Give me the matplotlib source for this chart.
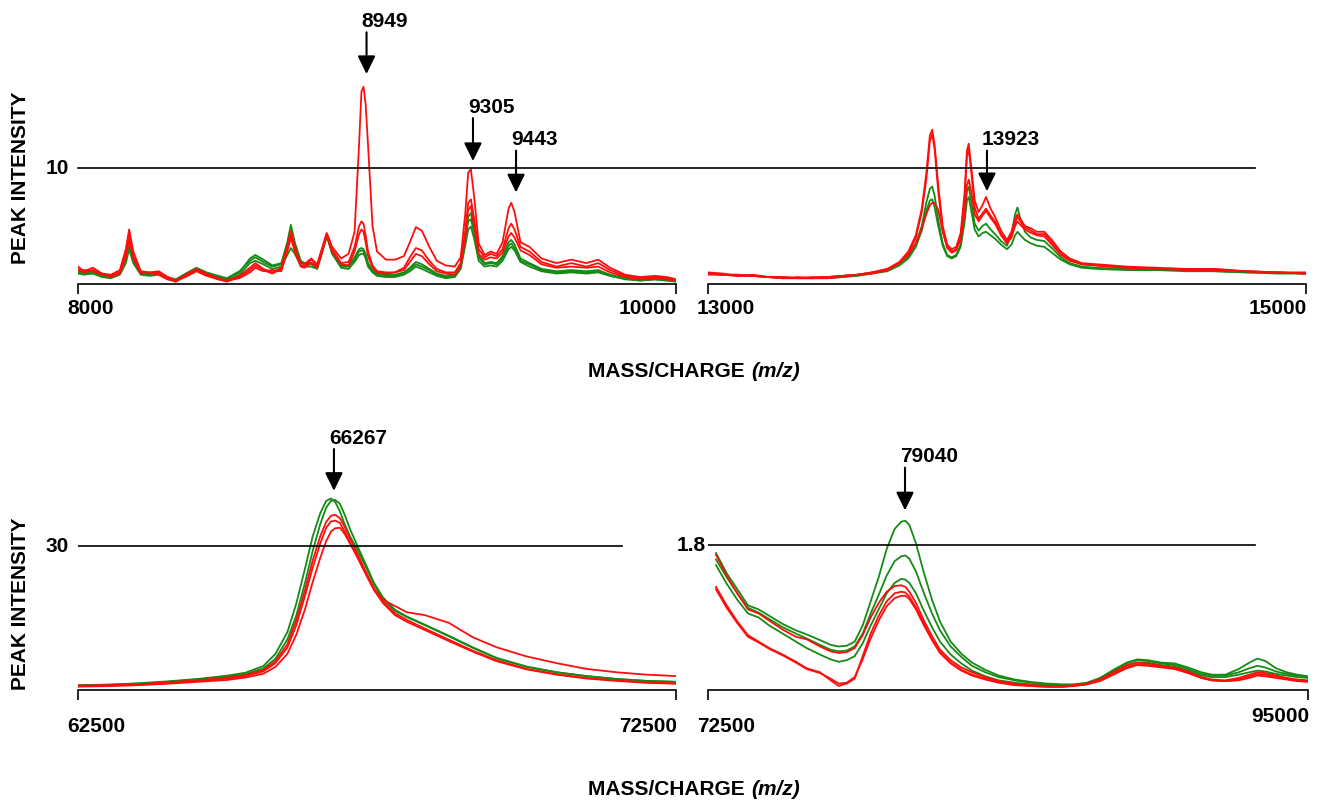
import matplotlib
matplotlib.use('Agg')
import matplotlib.pyplot as plt
from matplotlib.lines import Line2D
from matplotlib.transforms import blended_transform_factory

plt.rcParams['font.family'] = ['Liberation Sans', 'DejaVu Sans']
plt.rcParams['font.weight'] = 'bold'

RED = '#ff0d0d'
GREEN = '#158a15'

# ---------------- Panel A: m/z 8000 - 10000 ----------------
mz_a = [8000, 8020, 8050, 8080, 8110, 8140, 8160, 8171, 8185, 8210,
        8240, 8270, 8300, 8327, 8360, 8396, 8430, 8470, 8498, 8540,
        8575, 8593, 8620, 8650, 8680, 8700, 8712, 8725, 8745, 8757,
        8780, 8800, 8815, 8832, 8850, 8880, 8905, 8925, 8940, 8948,
        8955, 8962, 8970, 8985, 9000, 9030, 9060, 9090, 9110, 9130,
        9150, 9175, 9200, 9230, 9260, 9280, 9295, 9305, 9314, 9325,
        9340, 9360, 9380, 9400, 9420, 9440, 9449, 9460, 9480, 9510,
        9550, 9600, 9650, 9700, 9740, 9780, 9830, 9880, 9930, 9970,
        10000]
a_red1 = [1.5, 1.1, 1.4, 0.9, 0.8, 1.2, 3.0, 4.7, 2.8, 1.1,
          1.0, 1.1, 0.6, 0.3, 0.8, 1.3, 0.9, 0.5, 0.3, 0.7,
          1.4, 1.8, 1.3, 1.0, 1.4, 3.2, 4.4, 3.0, 1.8, 1.7,
          2.2, 1.7, 3.0, 4.4, 3.2, 2.2, 2.6, 4.5, 12.0, 16.6,
          17.0, 15.5, 12.0, 5.0, 2.8, 2.1, 2.1, 2.4, 3.6, 4.9,
          4.6, 3.2, 2.0, 1.6, 1.5, 2.3, 6.0, 9.6, 9.9, 7.5,
          3.5, 2.5, 2.8, 2.6, 3.6, 6.5, 7.0, 6.2, 3.6, 3.2,
          2.2, 1.8, 2.1, 1.8, 2.1, 1.4, 0.8, 0.6, 0.7, 0.6,
          0.4]
a_red2 = [1.2, 1.2, 1.1, 0.8, 0.7, 1.0, 2.6, 4.2, 2.4, 1.0,
          0.9, 1.0, 0.5, 0.2, 0.7, 1.2, 0.8, 0.4, 0.2, 0.6,
          1.2, 1.6, 1.2, 0.9, 1.3, 3.3, 4.6, 3.2, 1.6, 1.5,
          2.1, 1.5, 2.8, 4.3, 3.0, 1.8, 1.9, 3.2, 5.0, 5.4,
          5.2, 4.2, 2.8, 1.6, 1.1, 1.0, 1.0, 1.4, 2.3, 3.1,
          2.9, 2.0, 1.3, 1.0, 1.0, 1.8, 4.5, 7.0, 7.3, 5.6,
          3.0, 2.3, 2.6, 2.4, 3.0, 4.8, 5.2, 4.7, 3.2, 2.8,
          1.9, 1.5, 1.8, 1.5, 1.8, 1.2, 0.7, 0.5, 0.6, 0.5,
          0.3]
a_red3 = [1.3, 1.0, 1.2, 0.9, 0.6, 0.9, 2.3, 3.8, 2.2, 0.9,
          1.0, 0.8, 0.4, 0.3, 0.6, 1.1, 0.7, 0.4, 0.3, 0.5,
          1.0, 1.4, 1.1, 1.2, 1.1, 2.8, 4.0, 2.8, 1.5, 1.4,
          1.8, 1.4, 2.6, 4.2, 2.8, 1.7, 1.6, 2.8, 4.3, 4.7,
          4.5, 3.6, 2.4, 1.4, 1.0, 0.9, 1.0, 1.2, 1.9, 2.6,
          2.4, 1.7, 1.1, 0.9, 0.8, 1.6, 4.0, 6.4, 6.7, 5.0,
          2.6, 2.1, 2.3, 2.2, 2.7, 4.1, 4.4, 4.0, 2.9, 2.5,
          1.7, 1.4, 1.5, 1.4, 1.5, 1.0, 0.6, 0.4, 0.5, 0.4,
          0.3]
a_green1 = [1.0, 0.9, 1.0, 0.7, 0.6, 0.9, 2.0, 3.3, 2.0, 0.9,
            0.8, 0.9, 0.5, 0.3, 0.8, 1.3, 0.9, 0.6, 0.4, 1.0,
            2.2, 2.5, 2.1, 1.6, 1.8, 3.6, 5.1, 3.6, 2.0, 1.8,
            1.8, 1.5, 2.8, 4.3, 2.8, 1.6, 1.6, 2.3, 3.0, 3.1,
            3.0, 2.6, 1.8, 1.2, 0.9, 0.8, 0.8, 1.0, 1.4, 1.9,
            1.7, 1.3, 0.9, 0.7, 0.8, 1.6, 4.0, 5.8, 6.1, 4.8,
            2.5, 1.8, 1.9, 1.8, 2.4, 3.6, 3.8, 3.4, 2.2, 1.8,
            1.3, 1.1, 1.2, 1.1, 1.2, 0.8, 0.5, 0.4, 0.5, 0.4,
            0.3]
a_green2 = [0.9, 0.8, 0.9, 0.6, 0.5, 0.8, 1.8, 3.0, 1.8, 0.8,
            0.7, 0.8, 0.4, 0.2, 0.7, 1.2, 0.8, 0.5, 0.3, 0.8,
            1.8, 2.0, 1.7, 1.3, 1.5, 2.5, 3.1, 2.6, 1.6, 1.5,
            1.5, 1.3, 2.6, 4.1, 2.6, 1.4, 1.3, 1.9, 2.5, 2.6,
            2.6, 2.2, 1.5, 1.0, 0.7, 0.6, 0.6, 0.8, 1.1, 1.5,
            1.3, 1.0, 0.7, 0.5, 0.6, 1.3, 3.3, 4.7, 4.95, 3.9,
            2.0, 1.5, 1.6, 1.5, 2.0, 3.0, 3.2, 2.9, 1.9, 1.5,
            1.1, 0.9, 1.0, 0.9, 1.0, 0.7, 0.4, 0.3, 0.4, 0.3,
            0.2]
a_green3 = [1.1, 1.0, 1.1, 0.8, 0.7, 1.0, 2.2, 3.5, 2.1, 1.0,
            0.9, 1.0, 0.6, 0.4, 0.9, 1.4, 1.0, 0.7, 0.5, 1.1,
            2.0, 2.3, 1.9, 1.5, 1.7, 3.3, 4.4, 3.3, 1.9, 1.7,
            1.7, 1.4, 2.7, 4.2, 2.7, 1.5, 1.5, 2.1, 2.8, 2.9,
            2.8, 2.4, 1.7, 1.1, 0.8, 0.7, 0.7, 0.9, 1.3, 1.7,
            1.5, 1.2, 0.8, 0.6, 0.7, 1.5, 3.8, 5.4, 5.6, 4.4,
            2.3, 1.7, 1.8, 1.7, 2.2, 3.3, 3.5, 3.1, 2.0, 1.7,
            1.2, 1.0, 1.1, 1.0, 1.1, 0.7, 0.5, 0.3, 0.4, 0.3,
            0.3]

# ---------------- Panel B: m/z 13000 - 15000 ----------------
mz_b = [13000, 13050, 13100, 13150, 13200, 13250, 13300, 13350, 13400, 13450,
        13500, 13550, 13600, 13640, 13670, 13695, 13715, 13730, 13742, 13750,
        13758, 13770, 13785, 13800, 13815, 13830, 13845, 13858, 13866, 13872,
        13880, 13892, 13905, 13918, 13930, 13945, 13960, 13980, 14000, 14015,
        14027, 14035, 14045, 14060, 14080, 14100, 14125, 14150, 14180, 14210,
        14250, 14300, 14400, 14500, 14600, 14700, 14800, 14900, 15000]
b_red1 = [1.0, 0.9, 0.7, 0.8, 0.6, 0.5, 0.6, 0.5, 0.6, 0.7,
          0.8, 1.0, 1.3, 1.9, 2.8, 4.2, 6.5, 9.5, 12.8, 13.3,
          12.0, 8.5, 5.0, 3.4, 3.0, 3.2, 4.4, 7.8, 11.5, 12.1,
          10.2, 7.2, 6.2, 6.8, 7.5, 6.5, 5.8, 4.6, 3.8, 4.5,
          5.6, 6.0, 5.6, 5.0, 4.8, 4.5, 4.5, 3.8, 2.8, 2.2,
          1.8, 1.7, 1.5, 1.4, 1.3, 1.3, 1.1, 1.0, 1.0]
b_red2 = [0.9, 0.8, 0.8, 0.7, 0.6, 0.6, 0.5, 0.5, 0.5, 0.6,
          0.8, 0.9, 1.2, 1.8, 2.6, 4.0, 6.2, 9.0, 12.3, 12.9,
          11.6, 8.0, 4.6, 3.1, 2.7, 2.9, 4.0, 7.2, 11.0, 11.6,
          9.8, 6.6, 5.6, 6.1, 6.5, 5.9, 5.4, 4.3, 3.6, 4.2,
          5.3, 5.8, 5.4, 4.9, 4.6, 4.3, 4.3, 3.6, 2.6, 2.1,
          1.7, 1.6, 1.4, 1.3, 1.3, 1.2, 1.1, 1.0, 0.9]
b_red3 = [0.9, 0.8, 0.7, 0.7, 0.6, 0.5, 0.5, 0.6, 0.6, 0.7,
          0.8, 1.0, 1.3, 1.8, 2.5, 3.5, 4.8, 6.0, 6.8, 7.0,
          7.0, 6.4, 4.5, 3.2, 2.8, 3.0, 3.8, 6.0, 8.5, 9.0,
          8.0, 6.0, 5.4, 5.9, 6.3, 5.7, 5.2, 4.2, 3.5, 4.0,
          5.0, 5.4, 5.1, 4.7, 4.4, 4.2, 4.1, 3.4, 2.5, 2.0,
          1.7, 1.6, 1.4, 1.3, 1.2, 1.2, 1.1, 1.0, 0.9]
b_green1 = [0.9, 0.8, 0.8, 0.7, 0.6, 0.6, 0.5, 0.5, 0.6, 0.7,
            0.8, 1.0, 1.2, 1.7, 2.4, 3.5, 5.0, 7.0, 8.2, 8.4,
            7.6, 5.5, 3.5, 2.5, 2.3, 2.5, 3.4, 5.8, 8.0, 8.4,
            7.2, 5.2, 4.6, 5.0, 5.2, 4.7, 4.3, 3.7, 3.3, 4.3,
            6.0, 6.6, 5.6, 4.5, 4.0, 3.8, 3.7, 3.1, 2.3, 1.8,
            1.5, 1.4, 1.3, 1.2, 1.2, 1.1, 1.0, 1.0, 0.9]
b_green2 = [0.8, 0.8, 0.7, 0.7, 0.6, 0.5, 0.5, 0.5, 0.5, 0.6,
            0.7, 0.9, 1.1, 1.6, 2.2, 3.2, 4.6, 6.3, 7.2, 7.3,
            6.6, 5.0, 3.3, 2.4, 2.2, 2.4, 3.2, 5.3, 7.2, 7.5,
            6.4, 4.7, 4.1, 4.4, 4.5, 4.2, 3.9, 3.4, 3.0, 3.4,
            4.2, 4.5, 4.2, 3.8, 3.5, 3.3, 3.2, 2.7, 2.1, 1.7,
            1.4, 1.3, 1.2, 1.2, 1.1, 1.1, 1.0, 0.9, 0.9]

# ---------------- Panel C: m/z 62500 - 72500 ----------------
mz_c = [62500, 63000, 63500, 64000, 64500, 65000, 65300, 65600, 65800, 66000,
        66150, 66300, 66425, 66550, 66650, 66730, 66800, 66880, 66960, 67050,
        67180, 67300, 67450, 67600, 67800, 68000, 68300, 68700, 69100, 69500,
        70000, 70500, 71000, 71500, 72000, 72500]
c_green1 = [1.0, 1.1, 1.4, 1.8, 2.3, 3.0, 3.6, 5.0, 7.5, 12.0,
            18.0, 25.5, 32.0, 36.8, 39.4, 39.9, 39.2, 37.2, 34.5, 32.0,
            29.0, 26.0, 22.0, 19.0, 16.5, 15.2, 13.5, 11.2, 8.8, 6.6,
            4.8, 3.7, 2.9, 2.3, 1.9, 1.7]
c_green2 = [1.0, 1.1, 1.3, 1.7, 2.2, 2.8, 3.3, 4.5, 6.5, 10.5,
            15.5, 22.5, 29.0, 34.5, 38.0, 39.4, 39.6, 38.8, 36.5, 33.5,
            29.8, 26.5, 22.3, 19.3, 16.7, 15.3, 13.6, 11.3, 8.9, 6.7,
            4.9, 3.7, 2.9, 2.3, 1.9, 1.7]
c_red1 = [0.8, 0.9, 1.2, 1.6, 2.0, 2.6, 3.1, 4.2, 6.0, 9.5,
          14.5, 21.0, 27.0, 32.0, 35.0, 36.3, 36.5, 35.8, 34.0, 31.5,
          28.2, 25.0, 21.2, 18.5, 16.0, 14.6, 12.8, 10.5, 8.2, 6.2,
          4.4, 3.3, 2.5, 2.0, 1.6, 1.4]
c_red2 = [0.9, 1.0, 1.1, 1.5, 1.9, 2.4, 2.9, 3.9, 5.6, 8.8,
          13.5, 19.8, 25.5, 30.5, 33.8, 35.1, 35.3, 34.8, 33.0, 30.6,
          27.5, 24.5, 20.8, 18.1, 15.6, 14.2, 12.5, 10.2, 8.0, 6.0,
          4.3, 3.2, 2.4, 1.9, 1.5, 1.3]
c_red3 = [0.7, 0.8, 1.0, 1.3, 1.7, 2.1, 2.6, 3.4, 4.8, 7.5,
          11.5, 17.0, 22.5, 27.5, 31.0, 33.0, 33.7, 33.8, 32.5, 30.5,
          27.5, 24.5, 21.0, 18.8, 17.5, 16.2, 15.6, 14.0, 11.0, 8.9,
          7.0, 5.6, 4.4, 3.7, 3.2, 2.9]

# ---------------- Panel D: m/z 72500 - 95000 ----------------
mz_d = [72800, 73200, 73600, 74000, 74400, 74800, 75300, 75800, 76200, 76700,
        77100, 77400, 77700, 78000, 78300, 78600, 78900, 79200, 79500, 79750,
        79900, 80050, 80300, 80600, 80900, 81200, 81600, 82000, 82400, 82900,
        83400, 84000, 84600, 85200, 85800, 86200, 86700, 87200, 87700, 88200,
        88600, 89000, 89500, 90000, 90500, 91000, 91400, 91900, 92400, 92800,
        93100, 93400, 93800, 94200, 94600, 95000]
d_green1 = [1.70, 1.45, 1.25, 1.05, 1.00, 0.92, 0.82, 0.74, 0.69, 0.62,
            0.56, 0.54, 0.55, 0.60, 0.80, 1.10, 1.40, 1.75, 2.00, 2.09,
            2.10, 2.05, 1.82, 1.45, 1.12, 0.85, 0.60, 0.45, 0.34, 0.25,
            0.18, 0.13, 0.10, 0.08, 0.07, 0.07, 0.09, 0.15, 0.25, 0.34,
            0.38, 0.37, 0.34, 0.33, 0.28, 0.22, 0.19, 0.19, 0.26, 0.34,
            0.39, 0.36, 0.27, 0.22, 0.19, 0.17]
d_green2 = [1.62, 1.40, 1.20, 1.02, 0.96, 0.88, 0.78, 0.70, 0.64, 0.56,
            0.50, 0.48, 0.49, 0.54, 0.70, 0.95, 1.18, 1.42, 1.60, 1.66,
            1.67, 1.63, 1.47, 1.20, 0.95, 0.74, 0.54, 0.41, 0.30, 0.22,
            0.16, 0.12, 0.09, 0.07, 0.06, 0.06, 0.08, 0.14, 0.24, 0.33,
            0.37, 0.36, 0.33, 0.31, 0.26, 0.20, 0.18, 0.18, 0.22, 0.27,
            0.30, 0.28, 0.23, 0.20, 0.18, 0.16]
d_green3 = [1.55, 1.32, 1.12, 0.95, 0.90, 0.80, 0.70, 0.60, 0.52, 0.44,
            0.38, 0.35, 0.37, 0.42, 0.58, 0.80, 1.00, 1.20, 1.33, 1.38,
            1.37, 1.33, 1.20, 0.98, 0.78, 0.60, 0.44, 0.33, 0.24, 0.17,
            0.12, 0.09, 0.07, 0.06, 0.05, 0.06, 0.08, 0.13, 0.22, 0.30,
            0.34, 0.34, 0.31, 0.29, 0.24, 0.18, 0.16, 0.16, 0.19, 0.22,
            0.24, 0.23, 0.20, 0.18, 0.16, 0.15]
d_red1 = [1.68, 1.42, 1.20, 1.00, 0.95, 0.86, 0.75, 0.66, 0.63, 0.54,
          0.48, 0.46, 0.47, 0.52, 0.68, 0.90, 1.08, 1.22, 1.29, 1.30,
          1.28, 1.22, 1.08, 0.86, 0.67, 0.50, 0.37, 0.28, 0.22, 0.16,
          0.11, 0.08, 0.06, 0.05, 0.05, 0.06, 0.08, 0.13, 0.22, 0.31,
          0.34, 0.33, 0.30, 0.28, 0.23, 0.16, 0.13, 0.12, 0.15, 0.19,
          0.22, 0.21, 0.18, 0.15, 0.13, 0.12]
d_red2 = [1.28, 1.05, 0.85, 0.68, 0.60, 0.52, 0.44, 0.35, 0.27, 0.22,
          0.12, 0.05, 0.08, 0.14, 0.42, 0.70, 0.92, 1.10, 1.20, 1.22,
          1.21, 1.16, 1.02, 0.82, 0.63, 0.47, 0.34, 0.25, 0.19, 0.14,
          0.10, 0.07, 0.05, 0.04, 0.04, 0.05, 0.07, 0.12, 0.20, 0.28,
          0.32, 0.31, 0.29, 0.27, 0.22, 0.15, 0.12, 0.11, 0.13, 0.17,
          0.20, 0.19, 0.16, 0.14, 0.12, 0.11]
d_red3 = [1.25, 1.02, 0.83, 0.66, 0.59, 0.51, 0.43, 0.34, 0.26, 0.21,
          0.14, 0.08, 0.09, 0.16, 0.38, 0.64, 0.86, 1.04, 1.14, 1.17,
          1.17, 1.13, 1.00, 0.80, 0.62, 0.46, 0.33, 0.24, 0.18, 0.13,
          0.09, 0.06, 0.05, 0.04, 0.04, 0.05, 0.07, 0.11, 0.19, 0.27,
          0.31, 0.30, 0.28, 0.26, 0.21, 0.15, 0.12, 0.11, 0.12, 0.15,
          0.18, 0.17, 0.15, 0.13, 0.11, 0.10]

# peak annotations: label, arrow x, arrow tail y, arrow tip y
peaks_a = [('8949', 8965, 21.7, 18.1), ('9305', 9321, 14.3, 10.6), ('9443', 9465, 11.5, 7.9)]
peaks_b = [('13923', 13933, 11.5, 8.0)]
peaks_c = [('66267', 66780, 50.2, 41.5)]
peaks_d = [('79040', 79888, 2.76, 2.23)]

# ------------------------------------------------------------
W, H = 1317, 804
fig = plt.figure(figsize=(W / 100, H / 100), dpi=100)
FS = 15


def px_axes(x0, x1, ytop, ybot):
    return fig.add_axes([x0 / W, 1 - ybot / H, (x1 - x0) / W, (ybot - ytop) / H])


def style(ax, xlim, ylim, left_lab, right_lab, lab_dy_left, lab_dy_right):
    ax.set_xlim(*xlim)
    ax.set_ylim(*ylim)
    for s in ('top', 'left', 'right'):
        ax.spines[s].set_visible(False)
    ax.spines['bottom'].set_linewidth(1.2)
    ax.set_xticks(list(xlim))
    ax.set_xticklabels([])
    ax.set_yticks([])
    ax.tick_params(axis='x', direction='out', length=7, width=1.2)
    ax.patch.set_alpha(0)
    ax.annotate(left_lab, xy=(xlim[0], 0), xycoords=('data', 'axes fraction'),
                xytext=(-11, lab_dy_left), textcoords='offset pixels',
                ha='left', va='center', fontsize=FS, fontweight='bold')
    ax.annotate(right_lab, xy=(xlim[1], 0), xycoords=('data', 'axes fraction'),
                xytext=(1, lab_dy_right), textcoords='offset pixels',
                ha='right', va='center', fontsize=FS, fontweight='bold')


def draw_lines(ax, x, greens, reds):
    for g in greens:
        ax.plot(x, g, color=GREEN, lw=1.3, solid_joinstyle='round')
    for r in reds:
        ax.plot(x, r, color=RED, lw=1.3, solid_joinstyle='round')


def draw_peaks(ax, peaks):
    for lab, x, tail, tip in peaks:
        ax.annotate('', xy=(x, tip), xytext=(x, tail), annotation_clip=False,
                    arrowprops=dict(arrowstyle='-|>,head_length=0.55,head_width=0.27',
                                    mutation_scale=20, lw=1.5, color='black',
                                    shrinkA=0, shrinkB=0))
        ax.annotate(lab, xy=(x, tail), xytext=(-5, 12), textcoords='offset pixels',
                    ha='left', va='center', fontsize=FS, fontweight='bold',
                    annotation_clip=False)


def ref_label(ax, x, y, text, dx):
    ax.annotate(text, xy=(x, y), xytext=(dx, 0), textcoords='offset pixels',
                ha='right', va='center', fontsize=FS, fontweight='bold')


axA = px_axes(78, 676, 10, 285)
axB = px_axes(708, 1306, 10, 285)
axC = px_axes(78, 676, 430, 691)
axD = px_axes(708, 1308, 430, 691)

style(axA, (8000, 10000), (0, 275 / 11.6), '8000', '10000', -23, -23)
style(axB, (13000, 15000), (0, 275 / 11.6), '13000', '15000', -23, -23)
style(axC, (62500, 72500), (0, 261 / 4.8), '62500', '72500', -36, -36)
style(axD, (72500, 95000), (0, 261 / 80.56), '72500', '95000', -36, -26)

draw_lines(axA, mz_a, [a_green1, a_green2, a_green3], [a_red1, a_red2, a_red3])
draw_lines(axB, mz_b, [b_green1, b_green2], [b_red1, b_red2, b_red3])
draw_lines(axC, mz_c, [c_green1, c_green2], [c_red1, c_red2, c_red3])
draw_lines(axD, mz_d, [d_green1, d_green2, d_green3], [d_red1, d_red2, d_red3])

# reference lines
posA, posB = axA.get_position(), axB.get_position()
x_end_top = posB.x0 + (14830 - 13000) / 2000 * posB.width
fig.add_artist(Line2D([posA.x0, x_end_top], [10, 10], color='black', lw=1.2,
                      transform=blended_transform_factory(fig.transFigure, axA.transData)))
ref_label(axA, 8000, 10, '10', -9)
axC.plot([62500, 71600], [30, 30], color='black', lw=1.2)
ref_label(axC, 62500, 30, '30', -9)
axD.plot([72500, 93000], [1.8, 1.8], color='black', lw=1.2)
ref_label(axD, 72500, 1.8, '1.8', -2)

draw_peaks(axA, peaks_a)
draw_peaks(axB, peaks_b)
draw_peaks(axC, peaks_c)
draw_peaks(axD, peaks_d)

# axis titles
for yc in (178, 604):
    fig.text(21 / W, 1 - yc / H, 'PEAK INTENSITY', rotation=90, ha='center', va='center',
             fontsize=FS, fontweight='bold')

fig.canvas.draw()
renderer = fig.canvas.get_renderer()
for yc in (372, 790):
    t1 = fig.text(0, 1 - yc / H, 'MASS/CHARGE ', ha='left', va='center',
                  fontsize=FS, fontweight='bold')
    t2 = fig.text(0, 1 - yc / H, '(m/z)', ha='left', va='center',
                  fontsize=FS, fontweight='bold', style='italic')
    w1 = t1.get_window_extent(renderer).width
    w2 = t2.get_window_extent(renderer).width
    start = 694 - (w1 + w2) / 2
    t1.set_x(start / W)
    t2.set_x((start + w1) / W)

fig.savefig('out.png', dpi=100)
